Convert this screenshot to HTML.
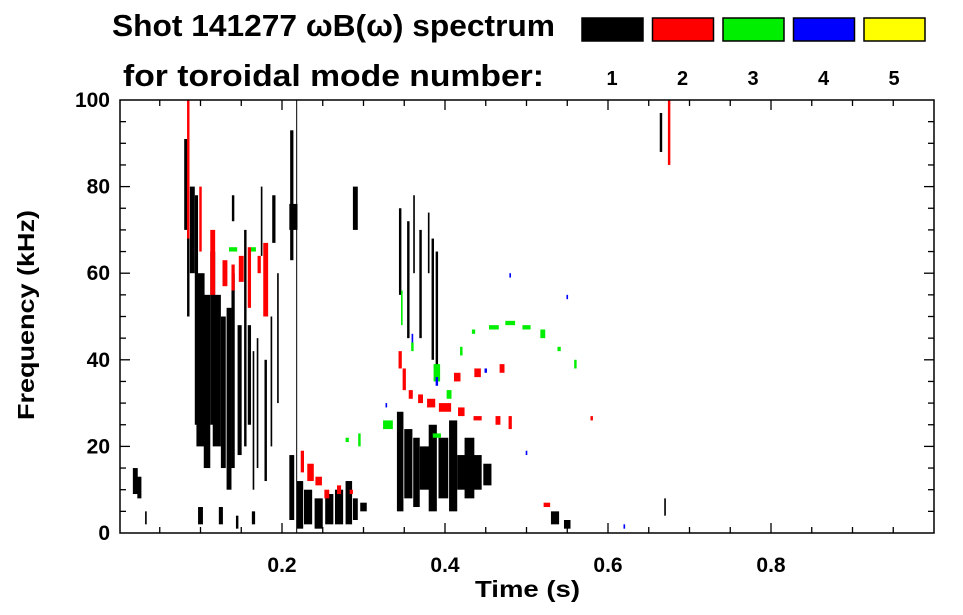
<!DOCTYPE html>
<html><head><meta charset="utf-8"><style>
body{margin:0;background:#fff}
svg{display:block;font-family:"Liberation Sans",sans-serif;font-weight:bold}
</style></head><body>
<svg id="chart" width="963" height="615" viewBox="0 0 963 615">
<text x="112" y="36" font-size="31" textLength="443" lengthAdjust="spacingAndGlyphs">Shot 141277 ωB(ω) spectrum</text>
<text x="123" y="86" font-size="31" textLength="421" lengthAdjust="spacingAndGlyphs">for toroidal mode number:</text>
<g id="legend"></g>
<g id="marks"></g>
<g id="axes"></g>
<text x="475" y="597" font-size="23" textLength="105" lengthAdjust="spacingAndGlyphs">Time (s)</text>
<text transform="translate(34,420) rotate(-90)" font-size="23" textLength="210" lengthAdjust="spacingAndGlyphs">Frequency (kHz)</text>
</svg>
<script>
// streaks per mode: time centre (s), freq low (kHz), freq high (kHz), time width (s)
const modeNumbers=["1","2","3","4","5"];
const modeColors=["#000000","#ff0000","#00ee00","#0000ff","#ffff00"];
const m1T=[0.02,0.025,0.033,0.082,0.085,0.09,0.095,0.1,0.108,0.115,0.12,0.128,0.135,0.14,0.148,0.155,0.16,0.165,0.17,0.18,0.187,0.195,0.14,0.175,0.19,0.212,0.214,0.218,0.1,0.125,0.145,0.165,0.212,0.222,0.232,0.245,0.258,0.27,0.282,0.29,0.3,0.29,0.345,0.355,0.362,0.37,0.38,0.385,0.39,0.345,0.355,0.365,0.375,0.385,0.398,0.41,0.42,0.43,0.44,0.452,0.535,0.55,0.665,0.67];
const m1Lo=[9,8,2,70,50,60,25,20,15,25,20,15,10,15,18,20,25,10,15,12,20,30,72,64,67,63,70,0,2,2,1,2,3,1,2,1,2,2,2,3,5,70,55,45,60,45,60,40,35,5,8,6,10,5,8,5,10,8,10,11,2,1,88,4];
const m1Hi=[15,13,5,91,88,80,78,60,55,65,55,50,52,60,48,70,48,42,45,40,50,60,78,80,78,93,76,100,6,6,4,5,18,12,10,8,9,10,12,8,7,80,75,72,78,70,74,68,65,28,24,22,20,25,22,26,18,22,18,16,5,3,97,8];
const m1W=[0.006,0.005,0.002,0.004,0.003,0.006,0.004,0.01,0.008,0.006,0.01,0.006,0.006,0.004,0.005,0.003,0.004,0.002,0.002,0.003,0.002,0.002,0.003,0.002,0.004,0.004,0.01,0.0012,0.006,0.005,0.003,0.004,0.006,0.008,0.01,0.01,0.01,0.01,0.008,0.006,0.008,0.006,0.003,0.003,0.002,0.003,0.002,0.003,0.003,0.008,0.01,0.008,0.012,0.01,0.012,0.01,0.01,0.012,0.01,0.01,0.01,0.008,0.003,0.002];
const m2T=[0.085,0.1,0.115,0.13,0.14,0.15,0.16,0.172,0.18,0.235,0.225,0.245,0.255,0.27,0.285,0.345,0.35,0.358,0.37,0.383,0.4,0.42,0.44,0.465,0.48,0.415,0.44,0.47,0.675,0.525,0.58];
const m2Lo=[68,65,55,57,56,58,52,60,50,12,14,11,8,9,9,38,33,31,30,29,28,27,26,25,24,35,36,37,85,6,26];
const m2Hi=[100,80,70,63,62,64,66,64,67,16,19,13,10,11,10,42,38,33,32,31,30,29,27,27,27,37,38,39,100,7,27];
const m2W=[0.003,0.003,0.006,0.006,0.004,0.006,0.004,0.004,0.006,0.008,0.004,0.008,0.006,0.005,0.004,0.004,0.004,0.005,0.006,0.01,0.015,0.008,0.01,0.006,0.004,0.008,0.008,0.006,0.003,0.008,0.003];
const m3T=[0.14,0.165,0.295,0.28,0.33,0.347,0.36,0.39,0.405,0.42,0.435,0.46,0.48,0.5,0.52,0.54,0.56,0.39];
const m3Lo=[65,65,20,21,24,48,42,35,31,41,46,47,48,47,45,42,38,22];
const m3Hi=[66,66,23,22,26,56,44,39,33,43,47,48,49,48,47,43,40,23];
const m3W=[0.01,0.006,0.003,0.004,0.012,0.002,0.003,0.008,0.006,0.003,0.004,0.012,0.012,0.01,0.006,0.004,0.003,0.01];
const m4T=[0.328,0.39,0.48,0.55,0.5,0.45,0.62,0.36];
const m4Lo=[29,34,59,54,18,37,1,44];
const m4Hi=[30,36,60,55,19,38,2,46];
const m4W=[0.002,0.003,0.002,0.002,0.002,0.003,0.002,0.002];
const xTicks=[0.2,0.4,0.6,0.8];
const yTicks=[0,20,40,60,80,100];

const NS="http://www.w3.org/2000/svg";
const L=120,R=934,T=100,B=533;
const xs=t=>119+t*815;
const ys=f=>B-(f/100)*(B-T);
function mk(tag,attrs,parent){const e=document.createElementNS(NS,tag);for(const k in attrs)e.setAttribute(k,attrs[k]);parent.appendChild(e);return e;}
const legend=document.getElementById('legend');
modeNumbers.forEach((n,i)=>{
  const x=582+i*70.5;
  const r=mk('rect',{x:x,y:18,width:61,height:23,fill:modeColors[i],stroke:'#000','stroke-width':1.5},legend);
  
  
  const t=mk('text',{x:x+30,y:85,'font-size':20,'text-anchor':'middle'},legend);
  t.textContent=n;
  
  
});
const marks=document.getElementById('marks');
const series=[[m1T,m1Lo,m1Hi,m1W],[m2T,m2Lo,m2Hi,m2W],[m3T,m3Lo,m3Hi,m3W],[m4T,m4Lo,m4Hi,m4W]];
series.forEach((s,si)=>{
  s[0].forEach((t,i)=>{
    const x0=xs(t-s[3][i]/2),x1=xs(t+s[3][i]/2);
    const y0=ys(s[2][i]),y1=ys(s[1][i]);
    const r=mk('rect',{x:x0,y:y0,width:Math.max(1,x1-x0),height:Math.max(1.5,y1-y0),fill:modeColors[si]},marks);
    
    
  });
});
const axes=document.getElementById('axes');
const frame=mk('rect',{x:L,y:T,width:R-L,height:B-T,fill:'none',stroke:'#000','stroke-width':1.5},axes);


for(let k=1;k<20;k++){const t=k*0.05,x=xs(t),len=(k%4===0)?10:6;
  mk('line',{x1:x,y1:B,x2:x,y2:B-len,stroke:'#000','stroke-width':1.3},axes);
  mk('line',{x1:x,y1:T,x2:x,y2:T+len,stroke:'#000','stroke-width':1.3},axes);}
for(let k=1;k<20;k++){const f=k*5,y=ys(f),len=(k%4===0)?10:6;
  mk('line',{x1:L,y1:y,x2:L+len,y2:y,stroke:'#000','stroke-width':1.3},axes);
  mk('line',{x1:R,y1:y,x2:R-len,y2:y,stroke:'#000','stroke-width':1.3},axes);}
xTicks.forEach(v=>{const t=mk('text',{x:xs(v),y:572,'font-size':21,'text-anchor':'middle'},axes);t.textContent=v.toFixed(1);
  
  });
yTicks.forEach(v=>{const t=mk('text',{x:110,y:ys(v)+7,'font-size':21,'text-anchor':'end'},axes);t.textContent=v;
  
  });
</script>
</body></html>
